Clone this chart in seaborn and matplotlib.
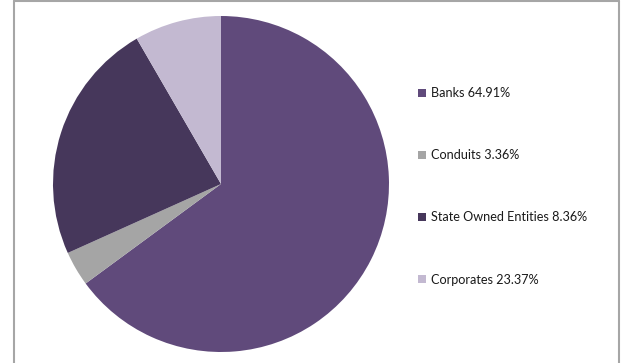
import matplotlib
matplotlib.use("Agg")
import matplotlib.pyplot as plt
from matplotlib.lines import Line2D
import seaborn as sns

# Legend entries (name and stated share)
categories = ["Banks", "Conduits", "State Owned Entities", "Corporates"]
shares = [64.91, 3.36, 8.36, 23.37]

# Slice sizes in drawing order (clockwise from 12 o'clock)
slice_values = [64.91, 3.36, 23.37, 8.36]
slice_colors = ["#604a7b", "#a5a5a5", "#46375b", "#c3b9d1"]

sns.set_theme(style="white")
plt.rcParams["font.family"] = ["Lato", "DejaVu Sans"]

W, H = 621, 363
fig = plt.figure(figsize=(W / 100, H / 100), dpi=100)
fig.patch.set_facecolor("white")

# pie axes: centre (221, 184) px, radius 168 px
cx, cy, r = 221, 184, 168
ax = fig.add_axes([(cx - r) / W, (H - cy - r) / H, 2 * r / W, 2 * r / H])
wedges, _ = ax.pie(slice_values, colors=slice_colors, startangle=90,
                   counterclock=False, wedgeprops=dict(linewidth=0))
ax.set_xlim(-1, 1)
ax.set_ylim(-1, 1)
ax.set_aspect("equal")
ax.axis("off")

labels = [f"{c} {s:.2f}%" for c, s in zip(categories, shares)]
leg = fig.legend(wedges, labels, loc="upper left",
                 bbox_to_anchor=(418 / W, 1 - 87 / H),
                 frameon=False, fontsize=9.1, labelcolor="#1a1a1a",
                 handlelength=0.6, handleheight=0.6, handletextpad=0.45,
                 labelspacing=3.97, borderaxespad=0, borderpad=0)

# outer chart frame (left, top, right)
frame_col = "#a6a6a6"
fig.add_artist(Line2D([13.5 / W, 13.5 / W], [0, 1 - 0.5 / H], color=frame_col, lw=1.5))
fig.add_artist(Line2D([618.5 / W, 618.5 / W], [0, 1 - 0.5 / H], color=frame_col, lw=1.5))
fig.add_artist(Line2D([13.5 / W, 618.5 / W], [1 - 0.5 / H, 1 - 0.5 / H], color=frame_col, lw=1.5))

fig.savefig("out.png", dpi=100, facecolor="white")
